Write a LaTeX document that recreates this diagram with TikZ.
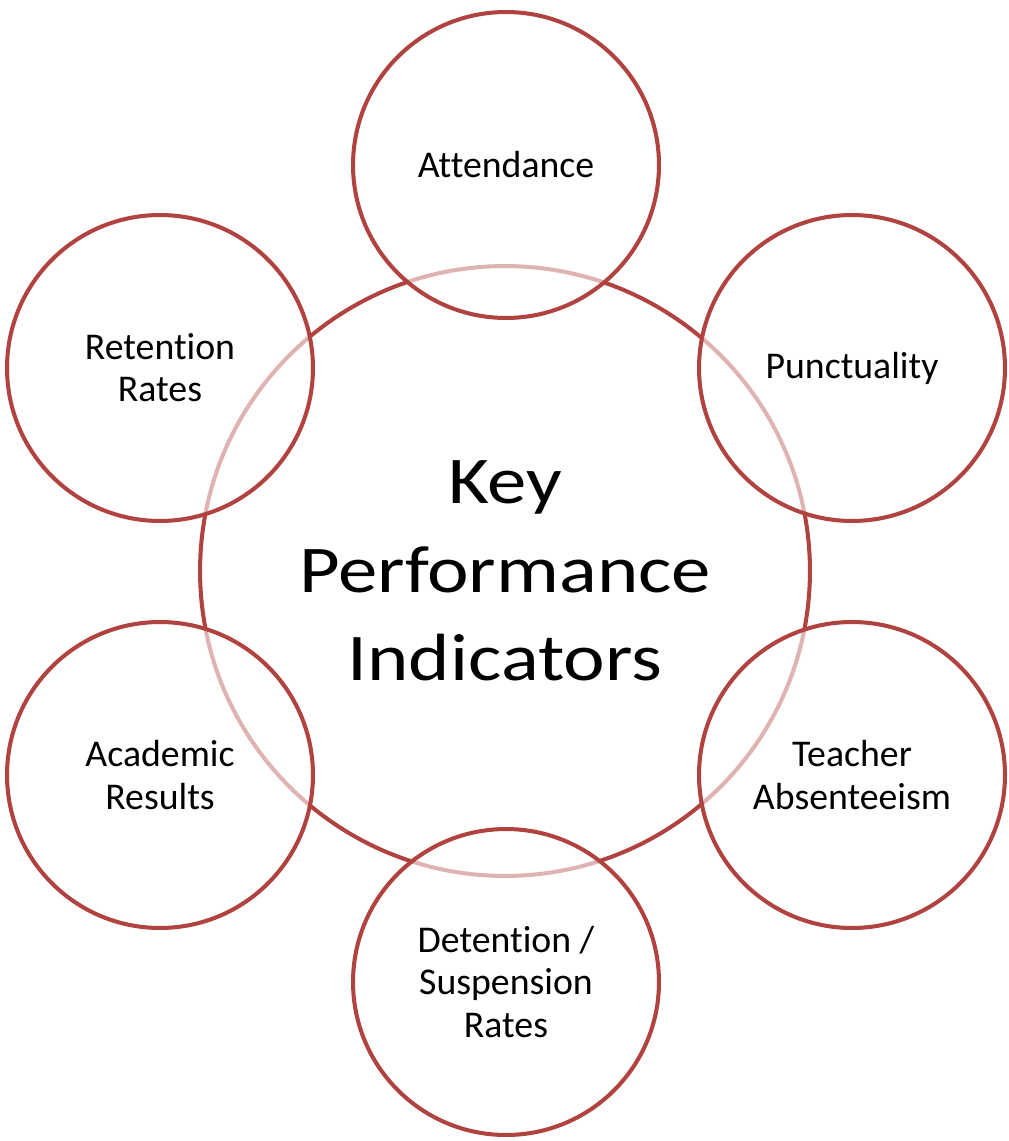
\documentclass[tikz,border=0pt]{standalone}
\usepackage{fontspec}
\setmainfont{Carlito}[Ligatures=NoCommon]
\newfontfamily\hubfont{Carlito}[Ligatures=NoCommon,FakeStretch=1.18]
\definecolor{kpired}{RGB}{176,66,63}
\tikzset{
  hub/.style={circle, draw=kpired, line width=2.3pt, minimum size=12.2cm,
    align=center, font=\hubfont\fontsize{38}{50.4}\selectfont},
  kpi/.style={circle, draw=kpired, line width=2.3pt, fill=white,
    fill opacity=0.6, text opacity=1, minimum size=6.12cm,
    align=center, font=\fontsize{21.5}{24}\selectfont}
}
\begin{document}
\begin{tikzpicture}[x=0.02cm,y=-0.02cm]
  \useasboundingbox (0,0) rectangle (1008,1141);
  % centre
  \node[hub] (hub) at (505,571) {Key\\Performance\\Indicators};
  % indicators round it
  \node[kpi] (attend) at (506,165) {Attendance};
  \node[kpi] (punct) at (852,368) {Punctuality};
  \node[kpi] (absent) at (852,775) {Teacher\\Absenteeism};
  \node[kpi] (detent) at (506,982) {Detention /\\Suspension\\Rates};
  \node[kpi] (academic) at (160,775) {Academic\\Results};
  \node[kpi] (retent) at (160,368) {Retention\\Rates};
\end{tikzpicture}
\end{document}
